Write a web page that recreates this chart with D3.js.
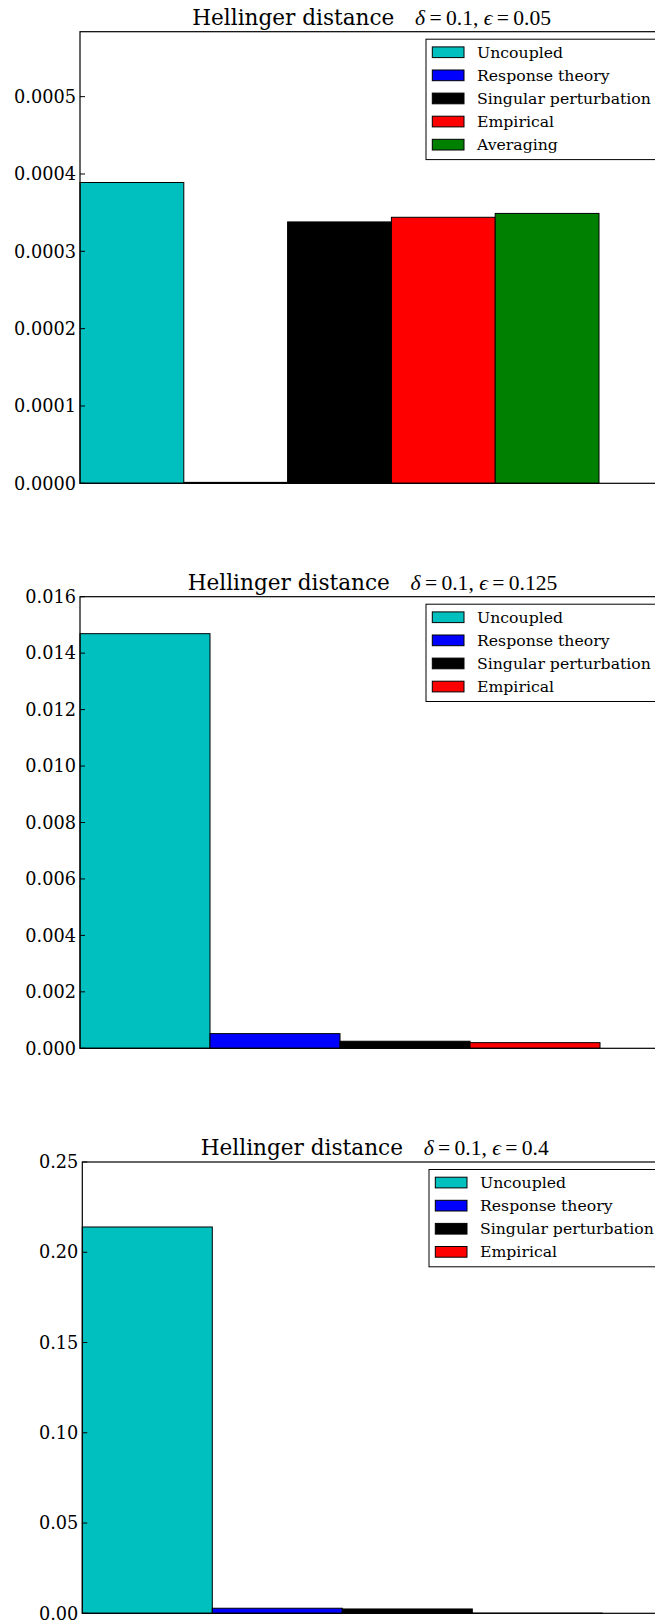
<!DOCTYPE html>
<html>
<head>
<meta charset="utf-8">
<script src="https://cdn.jsdelivr.net/npm/d3@7"></script>
<style>
  html, body { margin: 0; padding: 0; background: #fff; }
  svg { display: block; }
</style>
</head>
<body>
<svg id="fig" width="655" height="1622"></svg>
<script>
// Methods compared in every panel
const methods = ["Uncoupled", "Response theory", "Singular perturbation", "Empirical", "Averaging"];
const methodColors = ["#00bfbf", "#0000ff", "#000000", "#ff0000", "#008000"];

// Hellinger distance for delta = 0.1 at three coupling strengths
const epsValues = ["0.05", "0.125", "0.4"];
const dist005 = [0.000389, 0.0000012, 0.000338, 0.000344, 0.000349];
const dist0125 = [0.01469, 0.00052, 0.00025, 0.0002];
const dist04 = [0.214, 0.0028, 0.0024, 0.0001];

// y-axis ticks
const ticks005 = [0, 0.0001, 0.0002, 0.0003, 0.0004, 0.0005];
const ticks0125 = [0, 0.002, 0.004, 0.006, 0.008, 0.010, 0.012, 0.014, 0.016];
const ticks04 = [0, 0.05, 0.10, 0.15, 0.20, 0.25];
const tickDigits = [4, 3, 2];
const yMaxes = [0.000584, 0.016, 0.25];

const panels = [
  { values: dist005,  ticks: ticks005,  left: 80,   top: 31.7,  bottom: 483.3,  xMax: 5.62, legendLeft: 426 },
  { values: dist0125, ticks: ticks0125, left: 80,   top: 596.7, bottom: 1048.3, xMax: 4.5,  legendLeft: 426 },
  { values: dist04,   ticks: ticks04,   left: 82.3, top: 1162,  bottom: 1613.3, xMax: 4.5,  legendLeft: 429 }
];
const barPx = [103.8, 130, 130];

const svg = d3.select("#fig");
const serif = "'DejaVu Serif', serif";
const mathFont = "'Liberation Serif', 'DejaVu Serif', serif";

panels.forEach((p, k) => {
  const right = p.left + barPx[k] * p.xMax;
  const x = d3.scaleLinear().domain([0, p.xMax]).range([p.left, right]);
  const y = d3.scaleLinear().domain([0, yMaxes[k]]).range([p.bottom, p.top]);
  const g = svg.append("g");
  const n = p.values.length;

  // bars
  g.selectAll("rect.bar")
    .data(p.values)
    .join("rect")
    .attr("class", "bar")
    .attr("x", (d, i) => x(i))
    .attr("width", (d, i) => x(i + 1) - x(i))
    .attr("y", d => y(d))
    .attr("height", d => y(0) - y(d))
    .attr("fill", (d, i) => methodColors[i])
    .attr("stroke", "#000")
    .attr("stroke-width", 1);

  // axes frame
  g.append("rect")
    .attr("x", p.left).attr("y", p.top)
    .attr("width", right - p.left).attr("height", p.bottom - p.top)
    .attr("fill", "none").attr("stroke", "#000").attr("stroke-width", 1.2);

  // y ticks, pointing inward
  const fmt = d3.format("." + tickDigits[k] + "f");
  const tg = g.selectAll("g.tick").data(p.ticks).join("g")
    .attr("class", "tick")
    .attr("transform", d => `translate(0,${y(d)})`);
  tg.append("line")
    .attr("x1", p.left).attr("x2", p.left + 5)
    .attr("stroke", "#000").attr("stroke-width", 1);
  tg.append("line")
    .attr("x1", right).attr("x2", right - 5)
    .attr("stroke", "#000").attr("stroke-width", 1);
  tg.append("text")
    .attr("x", p.left - 4)
    .attr("dy", "0.35em")
    .attr("text-anchor", "end")
    .attr("font-family", serif)
    .attr("font-size", 17.7)
    .attr("fill", "#000")
    .text(d => fmt(d));

  // title
  const title = g.append("text")
    .attr("x", (p.left + right) / 2)
    .attr("y", p.top - 7)
    .attr("text-anchor", "middle")
    .attr("fill", "#000");
  title.append("tspan")
    .attr("font-family", serif).attr("font-size", 21.6)
    .text("Hellinger distance");
  title.append("tspan").attr("dx", 20.7)
    .attr("font-family", mathFont).attr("font-size", 21.6).attr("font-style", "italic")
    .text("δ");
  title.append("tspan")
    .attr("font-family", mathFont).attr("font-size", 21.6)
    .text("\u2009=\u20090.1, ");
  title.append("tspan")
    .attr("font-family", mathFont).attr("font-size", 21.6).attr("font-style", "italic")
    .text("ϵ");
  title.append("tspan")
    .attr("font-family", mathFont).attr("font-size", 21.6)
    .text("\u2009=\u2009" + epsValues[k]);

  // legend
  const lt = p.top + 7.5;
  const rowH = 23.1;
  const lg = g.append("g");
  lg.append("rect")
    .attr("x", p.legendLeft).attr("y", lt)
    .attr("width", right - 7 - p.legendLeft)
    .attr("height", 13 + rowH * (n - 1) + 15)
    .attr("fill", "#fff").attr("stroke", "#000").attr("stroke-width", 1);
  const rows = lg.selectAll("g.row").data(methods.slice(0, n)).join("g")
    .attr("class", "row")
    .attr("transform", (d, i) => `translate(${p.legendLeft},${lt + 13 + i * rowH})`);
  rows.append("rect")
    .attr("x", 6.3).attr("y", -5.3)
    .attr("width", 31.7).attr("height", 10.7)
    .attr("fill", (d, i) => methodColors[i])
    .attr("stroke", "#000").attr("stroke-width", 1);
  rows.append("text")
    .attr("x", 51)
    .attr("dy", "0.35em")
    .attr("font-family", serif)
    .attr("font-size", 15.7)
    .attr("fill", "#000")
    .text(d => d);
});
</script>
</body>
</html>
